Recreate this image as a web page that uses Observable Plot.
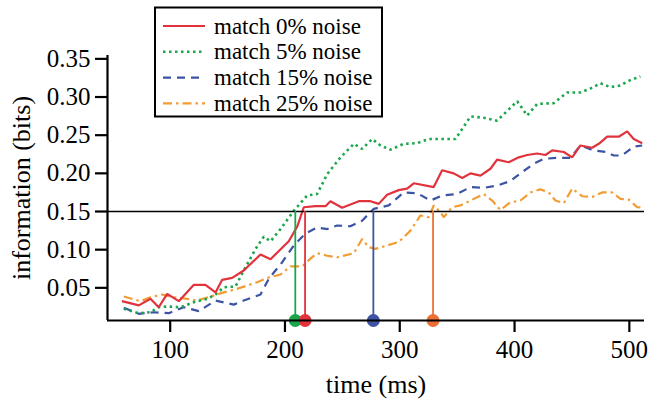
<!DOCTYPE html>
<html>
<head>
<meta charset="utf-8">
<script src="https://cdn.jsdelivr.net/npm/d3@7"></script>
<script src="https://cdn.jsdelivr.net/npm/@observablehq/plot@0.6"></script>
<style>
  html, body { margin: 0; padding: 0; background: #fff; }
  #chart svg, #chart svg text { font-family: "Liberation Serif", "DejaVu Serif", serif !important; }
</style>
</head>
<body>
<div id="chart"></div>
<script>
// ---- data (time in ms, information in bits) ----
const seriesNames = ["match 0% noise", "match 5% noise", "match 15% noise", "match 25% noise"];

const redT = [58, 72.7, 82.8, 90, 97.4, 107.5, 120.6, 130.7, 139.5, 145.3, 154, 164.1, 178.7, 187.4, 203.3, 210.6, 216.4, 226.6, 235.3, 239.6, 249.8, 264.3, 274.5, 281.7, 289, 299.1, 306.4, 312.2, 329.6, 336.9, 347, 354.4, 361.6, 370.3, 379, 384.8, 394.9, 403.7, 411, 419.7, 426.9, 432.8, 442.9, 450.2, 457.4, 467.6, 473.4, 480.7, 490.8, 498.1, 503.8, 511.2];
const redV = [0.0325, 0.027, 0.0356, 0.0246, 0.042, 0.0325, 0.054, 0.054, 0.044, 0.0605, 0.063, 0.0727, 0.0937, 0.0875, 0.111, 0.130, 0.1556, 0.157, 0.157, 0.1635, 0.155, 0.1635, 0.1635, 0.160, 0.172, 0.178, 0.180, 0.187, 0.182, 0.204, 0.200, 0.194, 0.200, 0.197, 0.206, 0.218, 0.2146, 0.221, 0.224, 0.226, 0.224, 0.230, 0.228, 0.221, 0.2365, 0.2335, 0.2387, 0.248, 0.248, 0.255, 0.245, 0.2395];

const greenT = [59.6, 72.6, 82.8, 90.1, 97.4, 109, 120.6, 132.2, 139.5, 146.7, 156.9, 164.1, 174.4, 181.6, 187.4, 196.1, 207.7, 219.3, 228, 236.8, 248.4, 260, 267.2, 276, 283.2, 291.9, 303.5, 315.2, 325.3, 335.5, 348.5, 361.6, 373.2, 384.8, 402.3, 411, 419.7, 434.2, 445.8, 457.4, 466, 474.8, 483.5, 492, 499, 509.6];
const greenV = [0.0225, 0.0168, 0.018, 0.0246, 0.0255, 0.0246, 0.0312, 0.0356, 0.0413, 0.0508, 0.0517, 0.0727, 0.101, 0.117, 0.111, 0.127, 0.151, 0.171, 0.173, 0.199, 0.221, 0.2387, 0.232, 0.245, 0.2365, 0.231, 0.2387, 0.2395, 0.245, 0.245, 0.245, 0.2745, 0.2728, 0.269, 0.2945, 0.2758, 0.291, 0.292, 0.306, 0.306, 0.311, 0.318, 0.313, 0.315, 0.321, 0.327];

const blueT = [59.6, 72.6, 85.7, 98.8, 111.8, 124.9, 139.5, 155.4, 164.1, 178.7, 185.9, 197.6, 207.7, 217.8, 228, 236.8, 245.5, 257, 267.2, 277.4, 290.4, 303.5, 315.2, 326.8, 336.9, 350, 361.6, 373.2, 384.8, 396.4, 405.1, 416.7, 425.4, 437.1, 448.7, 457.4, 469, 479.2, 486.4, 493.7, 503.8, 511.2];
const blueV = [0.0238, 0.016, 0.018, 0.0168, 0.0246, 0.0194, 0.0334, 0.028, 0.0334, 0.0413, 0.0618, 0.0836, 0.1055, 0.121, 0.129, 0.127, 0.1317, 0.1307, 0.138, 0.1535, 0.158, 0.175, 0.174, 0.1644, 0.171, 0.173, 0.182, 0.181, 0.184, 0.190, 0.200, 0.2125, 0.219, 0.2204, 0.2204, 0.2365, 0.230, 0.228, 0.2234, 0.2234, 0.235, 0.2365];

const orangeT = [59.6, 74.1, 82.8, 93, 103.1, 114.8, 123.5, 135.1, 146.7, 155.4, 167.1, 175.8, 184.5, 196.1, 204.8, 215, 222, 228, 236.8, 245.5, 260, 267.2, 273, 278.8, 289, 299, 309.3, 318, 325.3, 329.6, 335.5, 338.3, 345.6, 352.9, 361.6, 373.2, 380.5, 387.7, 396.4, 405.1, 413.8, 422.5, 429.8, 435.6, 442.9, 450.2, 458.9, 467.6, 476.3, 485, 492.2, 499.5, 506.8, 512.8];
const orangeV = [0.0386, 0.0325, 0.0377, 0.0413, 0.0377, 0.0356, 0.0334, 0.0386, 0.044, 0.0474, 0.053, 0.0574, 0.063, 0.0675, 0.078, 0.078, 0.088, 0.0954, 0.092, 0.090, 0.0954, 0.114, 0.1033, 0.101, 0.1055, 0.110, 0.125, 0.1448, 0.1425, 0.158, 0.149, 0.1425, 0.1556, 0.158, 0.1644, 0.173, 0.1644, 0.152, 0.162, 0.1644, 0.175, 0.179, 0.175, 0.1644, 0.161, 0.180, 0.170, 0.169, 0.175, 0.175, 0.1666, 0.1656, 0.1556, 0.155];

// threshold and crossing times
const threshold = 0.15;
const crossT = [209, 217.5, 277, 329];
const crossColors = ["#1aa64a", "#e2323c", "#3d54a4", "#ec7034"];

const xTicks = [100, 200, 300, 400, 500];
const yTicks = [0.05, 0.10, 0.15, 0.20, 0.25, 0.30, 0.35];

// ---- styles ----
const serif = "Liberation Serif, DejaVu Serif, serif";
const colors = ["#e2323c", "#1aa64a", "#3d54a4", "#f39c34"];
const dashes = [null, "2.5,3.5", "8,6", "9,4,2.5,4"];
const widths = [2.2, 2.6, 2.2, 2.2];

const xDomain = [45.4, 513.2];
const yDomain = [0.0072, 0.3544];

const toRows = (T, V) => T.map((t, i) => ({t, v: V[i]}));
const series = [toRows(redT, redV), toRows(greenT, greenV), toRows(blueT, blueV), toRows(orangeT, orangeV)];
const crosses = crossT.map((t, i) => ({t, c: crossColors[i]}));

const drawOrder = [3, 2, 1, 0];

const chart = Plot.plot({
  width: 651,
  height: 403,
  marginLeft: 107,
  marginRight: 7,
  marginTop: 55,
  marginBottom: 83,
  style: {fontFamily: serif, background: "#fff", color: "#000"},
  x: {domain: xDomain},
  y: {domain: yDomain},
  marks: [
    Plot.axisX({ticks: xTicks, tickSize: 12, strokeWidth: 2.2, tickPadding: 8, fontSize: 25, label: null}),
    Plot.axisY({ticks: yTicks, tickFormat: d3.format(".2f"), tickSize: 12, strokeWidth: 2.2, tickPadding: 5, fontSize: 25, label: null}),
    ...drawOrder.map(k => Plot.line(series[k], {
      x: "t", y: "v", stroke: colors[k], strokeWidth: widths[k],
      strokeDasharray: dashes[k], strokeLinejoin: "miter", strokeLinecap: "butt"
    })),
    Plot.ruleY([threshold], {stroke: "#000", strokeWidth: 1.6}),
    Plot.ruleX(crosses, {x: "t", y1: yDomain[0], y2: threshold, stroke: "c", strokeWidth: 1.8}),
    Plot.dot(crosses, {x: "t", y: yDomain[0], r: 6.5, fill: "c", stroke: "none"}),
    Plot.ruleX([xDomain[0]], {stroke: "#000", strokeWidth: 2.2}),
    Plot.ruleY([yDomain[0]], {stroke: "#000", strokeWidth: 2.2}),
    Plot.text(["information (bits)"], {frameAnchor: "left", dx: -86, rotate: -90, textAnchor: "middle", lineAnchor: "middle", fontSize: 26}),
    Plot.text(["time (ms)"], {frameAnchor: "bottom", dy: 64, textAnchor: "middle", lineAnchor: "middle", fontSize: 26})
  ]
});

chart.setAttribute("font-family", serif);
document.getElementById("chart").appendChild(chart);

// ---- legend drawn inside the svg ----
const svg = d3.select(chart);
const lg = svg.append("g").attr("font-family", serif).attr("text-anchor", "start");
lg.append("rect").attr("x", 155).attr("y", 7.5).attr("width", 227).attr("height", 109)
  .attr("fill", "#fff").attr("stroke", "#000").attr("stroke-width", 2);
seriesNames.forEach((name, i) => {
  const y = 26 + i * 25.8;
  lg.append("line").attr("x1", 163).attr("x2", 205).attr("y1", y).attr("y2", y)
    .attr("stroke", colors[i]).attr("stroke-width", widths[i])
    .attr("stroke-dasharray", dashes[i]);
  lg.append("text").attr("x", 214).attr("y", y).attr("dy", "0.33em")
    .attr("text-anchor", "start").attr("font-size", 23).attr("fill", "#000").text(name);
});
</script>
</body>
</html>
